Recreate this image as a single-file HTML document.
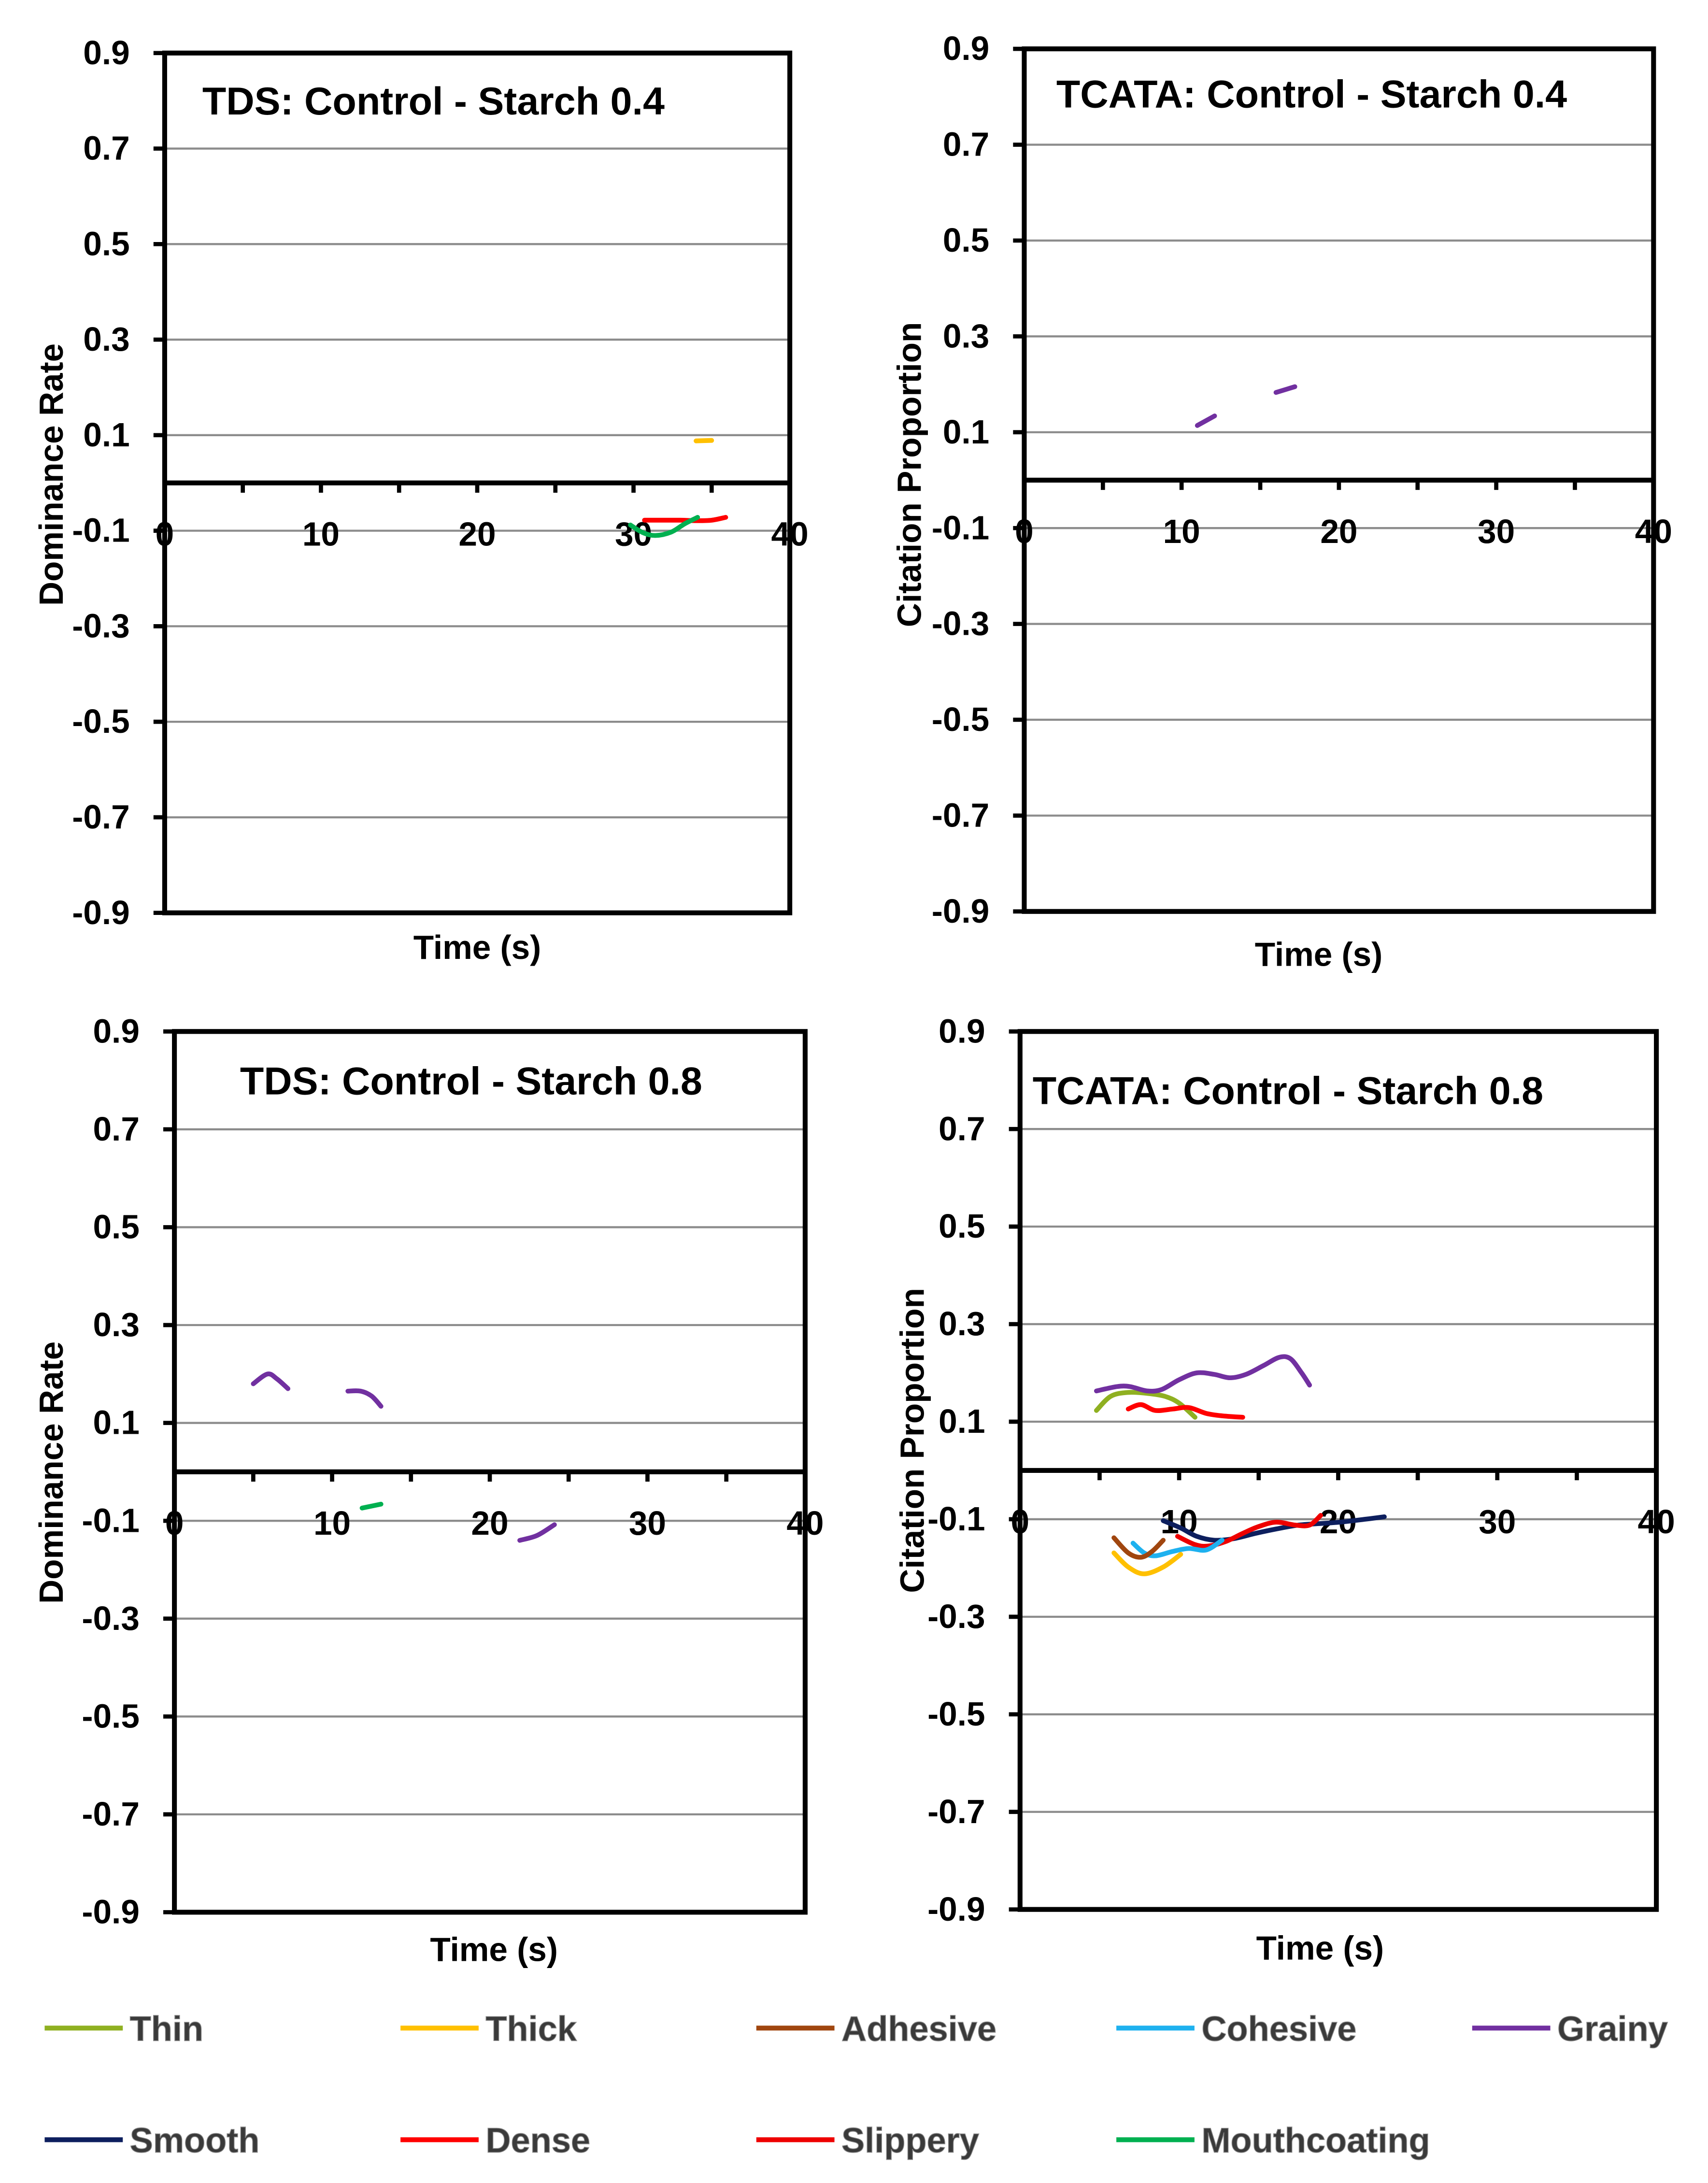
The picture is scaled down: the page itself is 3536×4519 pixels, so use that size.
<!DOCTYPE html>
<html><head><meta charset="utf-8"><style>
html,body{margin:0;padding:0;background:#fff;}
svg{display:block;}
text{font-family:"Liberation Sans",Arial,sans-serif;font-weight:bold;}
</style></head><body>
<svg id="svg" width="3536" height="4519" viewBox="0 0 1224 1564" preserveAspectRatio="none" xmlns="http://www.w3.org/2000/svg">
</svg>
<script>
// ---- Data ----
const yTicks = [0.9,0.7,0.5,0.3,0.1,-0.1,-0.3,-0.5,-0.7,-0.9];
const xTicks = [0,10,20,30,40];
const seriesNames = ["Thin","Thick","Adhesive","Cohesive","Grainy","Smooth","Dense","Slippery","Mouthcoating"];
const seriesColors = ["#8fb021","#ffc000","#a0460f","#1eb1ef","#7130a0","#0d1f5e","#ff0000","#ee0000","#00b050"];

// Chart 1: TDS Control - Starch 0.4
const c1ThickT = [34, 35];
const c1ThickV = [0.088, 0.089];
const c1DenseT = [30.7, 32, 33, 34, 35, 35.9];
const c1DenseV = [-0.078, -0.078, -0.078, -0.079, -0.078, -0.072];
const c1MouthT = [29.8, 30.6, 31.4, 32.4, 33.3, 34.1];
const c1MouthV = [-0.088, -0.104, -0.11, -0.103, -0.085, -0.072];

// Chart 2: TCATA Control - Starch 0.4
const c2Grainy1T = [11.0, 12.1];
const c2Grainy1V = [0.114, 0.134];
const c2Grainy2T = [16.0, 17.2];
const c2Grainy2V = [0.183, 0.195];

// Chart 3: TDS Control - Starch 0.8
const c3Grainy1T = [5.0, 5.9, 6.5, 7.2];
const c3Grainy1V = [0.18, 0.2, 0.19, 0.17];
const c3Grainy2T = [11.0, 11.8, 12.5, 13.1];
const c3Grainy2V = [0.165, 0.165, 0.155, 0.134];
const c3Grainy3T = [21.9, 23.0, 24.1];
const c3Grainy3V = [-0.14, -0.13, -0.108];
const c3MouthT = [11.9, 13.1];
const c3MouthV = [-0.074, -0.066];

// Chart 4: TCATA Control - Starch 0.8
const c4GrainyT = [4.8, 6.1, 6.9, 8.0, 8.9, 10.0, 11.1, 12.2, 13.2, 14.2, 15.3, 16.3, 17.0, 17.7, 18.2];
const c4GrainyV = [0.163, 0.172, 0.172, 0.163, 0.166, 0.186, 0.2, 0.197, 0.19, 0.197, 0.215, 0.232, 0.229, 0.2, 0.175];
const c4ThinT = [4.8, 5.7, 6.8, 8.0, 9.1, 10.0, 11.0];
const c4ThinV = [0.123, 0.152, 0.16, 0.158, 0.152, 0.138, 0.109];
const c4DenseT = [6.8, 7.6, 8.5, 9.6, 10.6, 11.7, 12.7, 14.0];
const c4DenseV = [0.126, 0.135, 0.123, 0.126, 0.129, 0.117, 0.112, 0.109];
const c4SmoothT = [9.0, 10.1, 11.1, 12.2, 13.4, 14.8, 16.1, 17.5, 18.8, 20.1, 21.7, 22.9];
const c4SmoothV = [-0.103, -0.118, -0.135, -0.143, -0.14, -0.129, -0.12, -0.112, -0.109, -0.106, -0.1, -0.095];
const c4SlipT = [9.9, 11.0, 11.8, 12.9, 14.0, 15.0, 16.1, 17.3, 18.2, 18.9];
const c4SlipV = [-0.135, -0.152, -0.155, -0.146, -0.129, -0.115, -0.106, -0.112, -0.112, -0.092];
const c4CohT = [7.1, 7.8, 8.5, 9.6, 10.6, 11.7, 12.7];
const c4CohV = [-0.149, -0.169, -0.175, -0.166, -0.16, -0.163, -0.143];
const c4AdhT = [5.9, 6.8, 7.6, 8.3, 9.0];
const c4AdhV = [-0.138, -0.169, -0.178, -0.166, -0.143];
const c4ThickT = [5.9, 6.8, 7.8, 9.0, 10.1];
const c4ThickV = [-0.169, -0.198, -0.212, -0.198, -0.172];

const NS = "http://www.w3.org/2000/svg";
const svg = document.getElementById('svg');
function mk(tag, attrs, parent){
  const e = document.createElementNS(NS, tag);
  for (const k in attrs) e.setAttribute(k, attrs[k]);
  (parent||svg).appendChild(e);
  return e;
}

const charts = [
  {id:'tds-04', L:118,R:566,T:38,B:654, title:"TDS: Control - Starch 0.4", tx:145, ty:82, ytitle:"Dominance Rate", ytx:45, yty:340, xtx:342, xty:687,
   series:[[1,c1ThickT,c1ThickV],[6,c1DenseT,c1DenseV],[8,c1MouthT,c1MouthV]]},
  {id:'tcata-04', L:734,R:1185,T:35,B:653, title:"TCATA: Control - Starch 0.4", tx:757, ty:77, ytitle:"Citation Proportion", ytx:660, yty:340, xtx:945, xty:692,
   series:[[4,c2Grainy1T,c2Grainy1V],[4,c2Grainy2T,c2Grainy2V]]},
  {id:'tds-08', L:125,R:577,T:739,B:1370, title:"TDS: Control - Starch 0.8", tx:172, ty:784, ytitle:"Dominance Rate", ytx:45, yty:1055, xtx:354, xty:1405,
   series:[[4,c3Grainy1T,c3Grainy1V],[4,c3Grainy2T,c3Grainy2V],[4,c3Grainy3T,c3Grainy3V],[8,c3MouthT,c3MouthV]]},
  {id:'tcata-08', L:731,R:1187,T:739,B:1368, title:"TCATA: Control - Starch 0.8", tx:740, ty:791, ytitle:"Citation Proportion", ytx:662, yty:1032, xtx:946, xty:1404,
   series:[[0,c4ThinT,c4ThinV],[4,c4GrainyT,c4GrainyV],[6,c4DenseT,c4DenseV],[5,c4SmoothT,c4SmoothV],[7,c4SlipT,c4SlipV],[3,c4CohT,c4CohV],[2,c4AdhT,c4AdhV],[1,c4ThickT,c4ThickV]]}
];

function smoothPath(pts){
  if (pts.length < 3) return "M" + pts.map(p=>p[0].toFixed(2)+","+p[1].toFixed(2)).join(" L");
  let d = "M"+pts[0][0].toFixed(2)+","+pts[0][1].toFixed(2);
  for (let i=0;i<pts.length-1;i++){
    const p0=pts[i-1]||pts[i], p1=pts[i], p2=pts[i+1], p3=pts[i+2]||p2;
    const c1x=p1[0]+(p2[0]-p0[0])/6, c1y=p1[1]+(p2[1]-p0[1])/6;
    const c2x=p2[0]-(p3[0]-p1[0])/6, c2y=p2[1]-(p3[1]-p1[1])/6;
    d += " C"+c1x.toFixed(2)+","+c1y.toFixed(2)+" "+c2x.toFixed(2)+","+c2y.toFixed(2)+" "+p2[0].toFixed(2)+","+p2[1].toFixed(2);
  }
  return d;
}

charts.forEach(c=>{
  const g = mk('g', {});
  
  
  const xs = t => c.L + (t-0)/(40-0)*(c.R-c.L);
  const ys = v => c.T + (0.9-v)/(1.8)*(c.B-c.T);
  yTicks.forEach(v=>{
    if (Math.abs(v)===0.9) return;
    const gl = mk('line',{x1:c.L,x2:c.R,y1:ys(v),y2:ys(v),stroke:'#8c8c8c','stroke-width':1.5},g);
    
    
  });
  yTicks.forEach(v=>{
    mk('line',{x1:c.L-8,x2:c.L,y1:ys(v),y2:ys(v),stroke:'#000','stroke-width':3},g);
    const t = mk('text',{x:c.L-25,y:ys(v)+8,'text-anchor':'end','font-size':24,fill:'#000'},g);
    t.textContent = v.toFixed(1);
    
    
  });
  const fr = mk('rect',{x:c.L,y:c.T,width:c.R-c.L,height:c.B-c.T,fill:'none',stroke:'#000','stroke-width':3.5},g);
  
  
  const y0 = ys(0);
  const za = mk('line',{x1:c.L,x2:c.R,y1:y0,y2:y0,stroke:'#000','stroke-width':3.5},g);
  
  
  for (let t=5;t<40;t+=5){
    mk('line',{x1:xs(t),x2:xs(t),y1:y0,y2:y0+7,stroke:'#000','stroke-width':3},g);
  }
  xTicks.forEach(t=>{
    const tl = mk('text',{x:xs(t),y:y0+45,'text-anchor':'middle','font-size':24,fill:'#000'},g);
    tl.textContent = String(t);
    
    
  });
  c.series.forEach(s=>{
    const [si, T, V] = s;
    const pts = T.map((t,i)=>[xs(t), ys(V[i])]);
    const p = mk('path',{d:smoothPath(pts),fill:'none',stroke:seriesColors[si],'stroke-width':3.4,'stroke-linecap':'round','stroke-linejoin':'round'},g);
    
    
  });
  const tt = mk('text',{x:c.tx,y:c.ty,'font-size':28,fill:'#000'},g);
  tt.textContent = c.title;
  
  
  const yt = mk('text',{x:c.ytx,y:c.yty,'font-size':24,fill:'#000','text-anchor':'middle',transform:'rotate(-90 '+c.ytx+' '+c.yty+')'},g);
  yt.textContent = c.ytitle;
  
  
  const xt = mk('text',{x:c.xtx,y:c.xty,'font-size':24,fill:'#000','text-anchor':'middle'},g);
  xt.textContent = "Time (s)";
  
  
});

const legX = [32,287,542,800,1055];
const lg = mk('g',{});


seriesNames.forEach((n,i)=>{
  const row = Math.floor(i/5), col = i%5;
  const y = row===0 ? 1453 : 1533;
  const e = mk('g',{},lg);
  
  
  mk('line',{x1:legX[col],x2:legX[col]+56,y1:y,y2:y,stroke:seriesColors[i],'stroke-width':3.5},e);
  const t = mk('text',{x:legX[col]+61,y:y+9,'font-size':25,fill:'#3a3a3a',stroke:'#888','stroke-width':0.5},e);
  t.textContent = n;
});
</script>
</body></html>
